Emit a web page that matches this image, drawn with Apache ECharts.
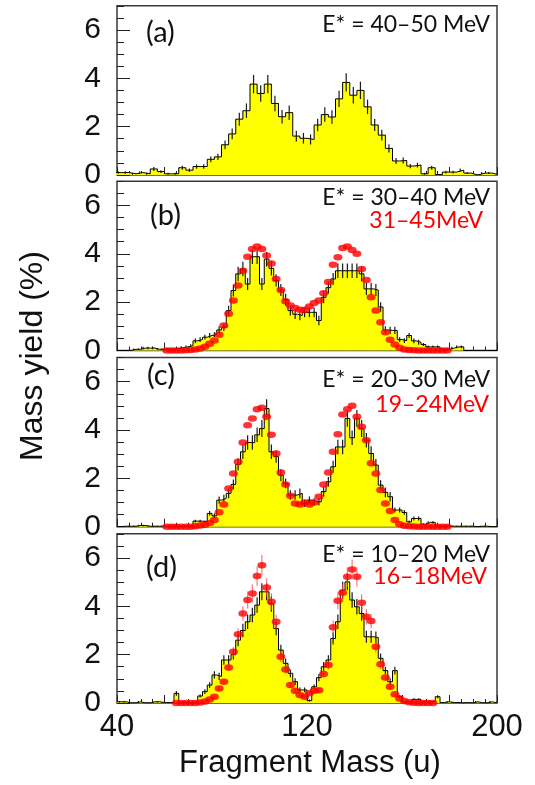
<!DOCTYPE html>
<html lang="en">
<head>
    <meta charset="UTF-8">
    <title>Mass yield</title>
    <script src="https://cdn.jsdelivr.net/npm/echarts@6/dist/echarts.min.js"></script>
    <style>
        *{
            margin: 0;
            padding: 0;
        }
        html,body{
            width: 100%;
            height: 100%;
            background: #fff;
        }
        .main{
            width: 535px;
            height: 785px;
        }
    </style>
</head>
<body>
<div class="main"></div>
<script>
    // panel (a): 3 u bins, lower edges
    const binLowA = [39,42,45,48,51,54,57,60,63,66,69,72,75,78,81,84,87,90,93,96,99,102,105,108,111,114,117,120,123,126,129,132,135,138,141,144,147,150,153,156,159,162,165,168,171,174,177,180,183,186,189,192,195,198];
    const yieldA = [0.1,0.1,0.05,0.1,0.05,0.25,0.14,0.05,0.05,0.3,0.2,0.35,0.35,0.65,0.75,1.25,1.7,2.31,2.66,3.76,3.37,3.76,2.96,2.41,2.58,1.61,1.52,1.47,2.07,2.5,2.4,3.15,3.83,3.3,3.5,2.82,2.07,1.65,1.1,0.58,0.6,0.37,0.41,0.05,0.3,0.02,0.12,0.12,0.2,0.08,0,0.08,0.08,0];
    const errA = [0.05,0.05,0.04,0.05,0.04,0.08,0.06,0.04,0.04,0.08,0.07,0.09,0.09,0.12,0.13,0.18,0.22,0.27,0.3,0.38,0.34,0.38,0.32,0.28,0.3,0.22,0.22,0.21,0.26,0.3,0.28,0.34,0.38,0.34,0.36,0.3,0.25,0.22,0.17,0.12,0.12,0.09,0.1,0.04,0.08,0.02,0.06,0.06,0.07,0.04,0,0.04,0.04,0];

    // panels (b)-(d): 2 u bins, lower edges
    const binLow = [40,42,44,46,48,50,52,54,56,58,60,62,64,66,68,70,72,74,76,78,80,82,84,86,88,90,92,94,96,98,100,102,104,106,108,110,112,114,116,118,120,122,124,126,128,130,132,134,136,138,140,142,144,146,148,150,152,154,156,158,160,162,164,166,168,170,172,174,176,178,180,182,184,186,188,190,192,194,196,198];

    const yieldB = [0,0,0,0.05,0.05,0.1,0.1,0.1,0.05,
        0.05,0.05,0.05,0.08,0.12,0.15,0.2,0.4,0.45,0.55,0.62,0.66,0.85,0.96,1.65,2.48,3.17,3.37,2.75,3.88,
        3.88,2.75,3.78,3.4,2.9,2.5,2.1,1.65,1.5,1.45,1.58,1.58,1.58,1.24,2.2,2.6,2.96,3.3,3.3,3.3,
        3.3,3.3,3.17,2.55,2.55,2.5,1.8,0.85,0.83,0.83,0.45,0.41,0.62,0.4,0.34,0.25,0.15,0.15,0.15,0.05,
        0.05,0.1,0.15,0.15,0,0,0,0,0,0,0];
    const errB = [0,0,0,0.03,0.03,0.05,0.05,0.05,0.03,
        0.03,0.03,0.03,0.03,0.06,0.06,0.06,0.1,0.1,0.1,0.1,0.1,0.15,0.15,0.2,0.25,0.3,0.3,0.25,0.3,
        0.3,0.25,0.3,0.3,0.25,0.25,0.25,0.2,0.2,0.2,0.2,0.2,0.2,0.2,0.25,0.25,0.25,0.3,0.3,0.3,
        0.3,0.3,0.3,0.25,0.25,0.25,0.2,0.15,0.15,0.15,0.1,0.1,0.1,0.1,0.1,0.06,0.06,0.06,0.06,0.03,
        0.03,0.05,0.06,0.06,0,0,0,0,0,0,0];

    const yieldC = [0,0.02,0.02,0.02,0.05,0.05,0.02,0.02,0.02,
        0.02,0.02,0.02,0.02,0.02,0.02,0.02,0.23,0.23,0.2,0.55,0.45,1.1,1.17,1.38,1.75,2.58,3.1,3.48,3.48,
        3.8,4.06,4.89,3.1,2.9,2.13,1.79,1.31,1.31,1.38,0.96,1.1,1.03,1.03,1.45,1.86,2.48,3.3,3.3,4.48,
        3.68,4.48,4.06,3.58,3.03,2.55,1.72,1.42,1.24,0.69,0.69,0.59,0.2,0.34,0.34,0.1,0.18,0.18,0.03,0.03,
        0.03,0.02,0.02,0.02,0.02,0.02,0,0.02,0.02,0,0];
    const errC = [0,0.02,0.02,0.02,0.03,0.03,0.02,0.02,0.02,
        0.02,0.02,0.02,0.02,0.02,0.02,0.02,0.06,0.06,0.06,0.1,0.1,0.15,0.15,0.2,0.2,0.25,0.3,0.3,0.3,
        0.3,0.35,0.38,0.3,0.25,0.25,0.2,0.2,0.2,0.2,0.15,0.15,0.15,0.15,0.2,0.2,0.25,0.3,0.3,0.35,
        0.3,0.35,0.35,0.3,0.3,0.25,0.2,0.2,0.2,0.1,0.1,0.1,0.06,0.08,0.08,0.04,0.05,0.05,0.02,0.02,
        0.02,0.02,0.02,0.02,0.02,0.02,0,0.02,0.02,0,0];

    const yieldD = [0.05,0.05,0,0,0.05,0,0,0.05,0.05,
        0.02,0.02,0.02,0.4,0.02,0.02,0.02,0.02,0.29,0.47,0.74,1.16,1.1,1.78,1.78,2.0,2.6,3.0,3.36,3.64,
        4.05,4.6,4.6,4.1,3.08,2.19,1.64,1.23,0.88,0.54,0.54,0.1,0.67,1.05,1.5,1.78,2.67,3.36,4.67,5.01,
        4.26,3.98,3.7,2.74,2.74,2.71,1.85,1.34,0.88,1.34,0.26,0.05,0.05,0.15,0.15,0.05,0.05,0.05,0.26,0.02,
        0.05,0.02,0.02,0,0.02,0,0.05,0,0,0.05,0];
    const errD = [0.03,0.03,0,0,0.03,0,0,0.03,0.03,
        0.02,0.02,0.02,0.1,0.02,0.02,0.02,0.02,0.06,0.1,0.12,0.15,0.15,0.2,0.2,0.2,0.25,0.28,0.3,0.3,
        0.32,0.35,0.35,0.32,0.28,0.22,0.2,0.16,0.14,0.1,0.1,0.04,0.1,0.15,0.2,0.2,0.25,0.3,0.35,0.35,
        0.32,0.32,0.3,0.25,0.25,0.25,0.2,0.16,0.14,0.16,0.06,0.03,0.03,0.05,0.05,0.03,0.03,0.03,0.06,0.02,
        0.03,0.02,0.02,0,0.02,0,0.03,0,0,0.03,0];

    // red points (second data set)
    const redMassBC = [61,63,65,67,69,71,73,75,77,79,81,83,85,87,89,91,93,95,97,99,101,103,105,107,109,111,113,115,117,119,121,123,125,127,129,131,133,135,137,139,141,143,145,147,149,151,153,155,157,159,161,163,165,167,169,171,173,175,177,179];
    const redB = [0,0,0,0,0.01,0.02,0.04,0.08,0.15,0.28,0.41,0.65,1.03,1.52,2.07,2.69,3.3,3.88,4.2,4.3,
        4.2,3.93,3.6,2.96,2.5,2.04,1.86,1.76,1.69,1.69,1.82,1.96,2.07,2.37,2.83,3.55,3.86,4.24,4.3,4.16,
        4.0,3.37,2.92,2.2,1.65,1.17,0.76,0.44,0.25,0.11,0.04,0.02,0.01,0,0,0,0,0,0,0];
    const redC = [0,0,0,0,0,0,0.02,0.05,0.08,0.15,0.28,0.6,0.92,1.58,2.2,2.69,3.48,4.2,4.48,4.86,
        4.92,4.55,3.8,3.03,2.24,1.75,1.28,0.96,0.92,1.0,0.92,1.0,1.24,1.75,2.24,3.1,3.82,4.64,4.86,5.0,
        4.55,4.13,3.58,2.62,2.2,1.52,0.96,0.65,0.28,0.1,0.04,0.02,0.01,0,0,0,0,0,0,0];
    const redMassD = [65,67,69,71,73,75,77,79,81,83,85,87,89,91,93,95,97,99,101,103,105,107,109,111,113,115,117,119,121,123,125,127,129,131,133,135,137,139,141,143,145,147,149,151,153,155,157,159,161,163,165,167,169,171,173];
    const redD = [0,0,0,0,0,0.02,0.06,0.14,0.26,0.6,0.88,1.47,2.12,2.84,3.7,4.26,4.53,5.25,5.7,4.78,
        4.19,3.36,1.91,1.39,0.74,0.51,0.33,0.26,0.4,0.51,0.53,1.2,1.57,3.13,4.23,4.56,5.22,5.52,5.22,4.15,
        3.57,3.39,2.33,1.6,1.05,0.67,0.36,0.19,0.08,0.03,0.01,0,0,0,0];
    const redErrD = [0.02,0.02,0.02,0.02,0.02,0.03,0.04,0.05,0.06,0.1,0.12,0.15,0.2,0.25,0.3,0.35,0.38,0.4,0.42,0.38,
        0.35,0.3,0.22,0.18,0.12,0.1,0.08,0.07,0.08,0.1,0.1,0.15,0.18,0.28,0.35,0.38,0.4,0.42,0.4,0.35,
        0.32,0.3,0.24,0.18,0.14,0.1,0.07,0.05,0.03,0.02,0.02,0.02,0.02,0.02,0.02];

    const xTickLabels = [40, 120, 200];
    const yTickLabels = [0, 2, 4, 6];
    const panelTags = ['(a)', '(b)', '(c)', '(d)'];
    const energyLabels = ['E* = 40\u201350 MeV', 'E* = 30\u201340 MeV', 'E* = 20\u201330 MeV', 'E* = 10\u201320 MeV'];
    const redLabels = ['', '31\u201345MeV', '19\u201324MeV', '16\u201318MeV'];

    const panels = [
        {low: binLowA, width: 3, y: yieldA, err: errA, redX: null, redY: null, redErr: null},
        {low: binLow, width: 2, y: yieldB, err: errB, redX: redMassBC, redY: redB, redErr: null},
        {low: binLow, width: 2, y: yieldC, err: errC, redX: redMassBC, redY: redC, redErr: null},
        {low: binLow, width: 2, y: yieldD, err: errD, redX: redMassD, redY: redD, redErr: redErrD}
    ];

    // layout
    const gridTops = [5.8, 181.3, 357.5, 533.8];
    const tagPos = [[146, 35], [150, 218], [147, 378], [146, 570]];
    const energyPos = [[490, 25], [490, 198], [490, 380], [490, 555]];
    const redPos = [null, [483, 221], [489, 405], [487, 577]];

    const tickFont = 'Liberation Sans, Arial, sans-serif';
    const textFont = 'Lato, Open Sans, sans-serif';

    function errorBar(color, width) {
        return function (params, api) {
            let x = api.value(0);
            let p1 = api.coord([x, api.value(1)]);
            let p2 = api.coord([x, api.value(2)]);
            return {
                type: 'line',
                shape: {x1: p1[0], y1: p1[1], x2: p2[0], y2: p2[1]},
                style: {stroke: color, lineWidth: width}
            };
        };
    }

    let grid = [], xAxis = [], yAxis = [], series = [], graphic = [];

    panels.forEach((p, i) => {
        grid.push({
            left: 117, width: 380, top: gridTops[i], height: 169.2,
            show: true, borderColor: '#3a3a3a', borderWidth: 1.5
        });
        xAxis.push({
            gridIndex: i, type: 'value', min: 40, max: 200, interval: 20,
            axisLine: {show: false},
            axisTick: {inside: true, length: 8, lineStyle: {color: '#222', width: 1}},
            minorTick: {show: true, splitNumber: 4, length: 4, lineStyle: {color: '#222', width: 1}},
            splitLine: {show: false},
            axisLabel: {
                show: i === 3, margin: 9, fontSize: 31, fontFamily: tickFont, color: '#111',
                formatter: v => xTickLabels.includes(v) ? String(v) : ''
            }
        });
        // labelled ticks
        yAxis.push({
            gridIndex: i, type: 'value', position: 'left', min: 0, max: 7, interval: 2,
            axisLine: {show: false},
            axisTick: {inside: true, length: 13, lineStyle: {color: '#222', width: 1}},
            splitLine: {show: false},
            axisLabel: {
                margin: 16, fontSize: 30, fontFamily: tickFont, color: '#111', showMaxLabel: false,
                formatter: v => yTickLabels.includes(v) ? String(v) : ''
            }
        });
        // small ticks every 0.5
        yAxis.push({
            gridIndex: i, type: 'value', position: 'left', min: 0, max: 7, interval: 0.5,
            axisLine: {show: false},
            axisTick: {inside: true, length: 7, lineStyle: {color: '#222', width: 1}},
            splitLine: {show: false},
            axisLabel: {show: false}
        });

        let steps = p.low.map((x, k) => [x, p.y[k]]);
        steps.push([p.low[p.low.length - 1] + p.width, p.y[p.y.length - 1]]);
        series.push({
            type: 'line', xAxisIndex: i, yAxisIndex: 2 * i, step: 'end',
            data: steps, symbol: 'none', silent: true,
            lineStyle: {color: '#000', width: 1},
            areaStyle: {color: '#ffff00', opacity: 1},
            z: 2
        });

        let bars = [];
        p.low.forEach((x, k) => {
            if (p.err[k] > 0) {
                bars.push([x + p.width / 2, p.y[k] - p.err[k], p.y[k] + p.err[k]]);
            }
        });
        series.push({
            type: 'custom', xAxisIndex: i, yAxisIndex: 2 * i, silent: true,
            renderItem: errorBar('#1a1a1a', 1.2),
            encode: {x: 0, y: [1, 2]},
            data: bars, z: 3
        });

        if (p.redX) {
            if (p.redErr) {
                series.push({
                    type: 'custom', xAxisIndex: i, yAxisIndex: 2 * i, silent: true,
                    renderItem: errorBar('rgba(255,60,60,0.7)', 1.2),
                    encode: {x: 0, y: [1, 2]},
                    data: p.redX.map((x, k) => [x, p.redY[k] - p.redErr[k], p.redY[k] + p.redErr[k]]),
                    z: 4
                });
            }
            series.push({
                type: 'scatter', xAxisIndex: i, yAxisIndex: 2 * i, silent: true,
                data: p.redX.map((x, k) => [x, p.redY[k]]),
                symbol: 'circle', symbolSize: [9, 6.5],
                itemStyle: {color: '#ff0000'},
                clip: false, z: 5
            });
        }

        graphic.push({
            type: 'text', left: tagPos[i][0], top: tagPos[i][1] - 17,
            style: {text: panelTags[i], font: '29px ' + textFont, fill: '#111'}
        });
        graphic.push({
            type: 'text', x: energyPos[i][0], y: energyPos[i][1],
            style: {text: energyLabels[i], font: '23px ' + textFont, fill: '#111', align: 'right', verticalAlign: 'middle'}
        });
        if (redPos[i]) {
            graphic.push({
                type: 'text', x: redPos[i][0], y: redPos[i][1],
                style: {text: redLabels[i], font: '23px ' + textFont, fill: '#ff0000', align: 'right', verticalAlign: 'middle'}
            });
        }
    });

    graphic.push({
        type: 'text', x: 33, y: 356, rotation: Math.PI / 2,
        style: {text: 'Mass yield (%)', font: '32px ' + tickFont, fill: '#111', align: 'center', verticalAlign: 'middle'}
    });
    graphic.push({
        type: 'text', x: 310, y: 763,
        style: {text: 'Fragment Mass (u)', font: '31px ' + tickFont, fill: '#111', align: 'center', verticalAlign: 'middle'}
    });

    let main = echarts.init(document.getElementsByClassName('main')[0], null, {renderer: 'canvas'});
    main.setOption({
        animation: false,
        backgroundColor: '#fff',
        grid,
        xAxis,
        yAxis,
        series,
        graphic
    });
</script>
</body>
</html>
